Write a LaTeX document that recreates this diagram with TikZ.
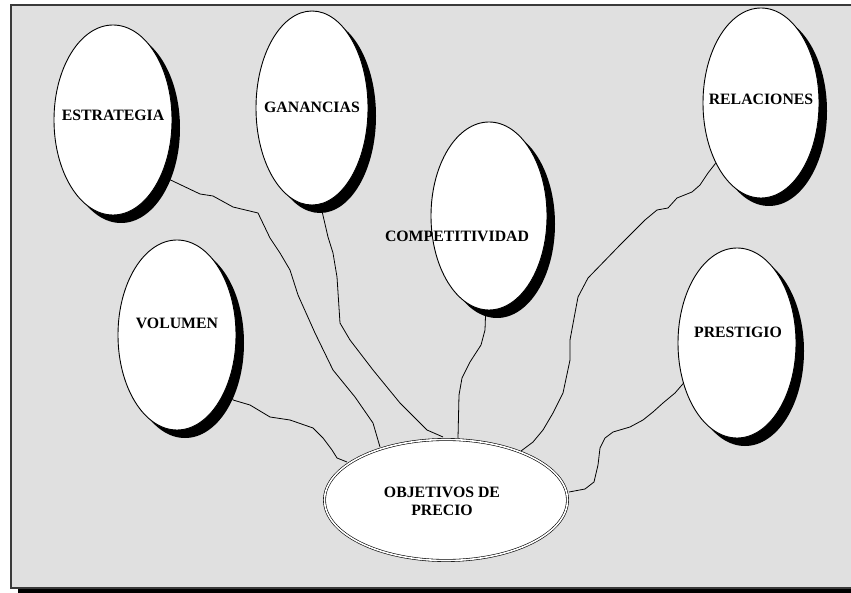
\documentclass[tikz,border=0pt]{standalone}
\usepackage{fontspec}
\setmainfont{Liberation Serif}
\usetikzlibrary{shapes.geometric,shadows}
\definecolor{panel}{HTML}{E0E0E0}
\definecolor{panelrim}{HTML}{3A3A3A}
\begin{document}
\begin{tikzpicture}[x=1pt,y=-1pt,
  goal/.style={ellipse,draw=black,line width=0.9pt,fill=white,inner sep=0pt,
    minimum width=118pt,minimum height=190pt,
    general shadow={fill=black,shadow xshift=8pt,shadow yshift=-8pt}},
  hub/.style={ellipse,draw=black,line width=0.6pt,double=white,double distance=1.6pt,
    fill=white,inner sep=0pt,minimum width=243pt,minimum height=121pt},
  caption/.style={font=\bfseries\fontsize{15.8}{18}\selectfont,text=black,
    inner sep=0pt,align=center},
  wire/.style={draw=black,line width=0.8pt,line join=round}]
\useasboundingbox (0,0) rectangle (851,593);
% panel with its drop shadow
\fill[black] (18,12) rectangle (877,600);
\draw[panelrim,fill=panel,line width=1.2pt] (11,5) rectangle (870,588);

% the six objective bubbles
\node[goal] (estr) at (113,120) {};
\node[goal,minimum width=112pt,minimum height=194pt] (gan) at (312,108) {};
\node[goal,minimum width=116pt,minimum height=188pt] (comp) at (489,216) {};
\node[goal,minimum width=116pt] (rel) at (761,103) {};
\node[goal] (vol) at (177,335) {};
\node[goal] (pres) at (737,343) {};

% freehand links to the central bubble
\draw[wire] (estr.-49) -- (200,194) -- (213,196) -- (233,207) -- (258,213) -- (270,238)
  -- (280,253) -- (290,270) -- (298,295) -- (315,333) -- (333,370) -- (355,397)
  -- (373,423) -- (380,447);
\draw[wire] (gan.-85) -- (328,237) -- (333,253) -- (337,277) -- (340,323) -- (350,340)
  -- (373,370) -- (400,403) -- (427,430) -- (443,437);
\draw[wire] (comp.-92) -- (485,330) -- (481,345) -- (470,362) -- (462,378) -- (459,395)
  -- (458,438);
\draw[wire] (rel.-127) -- (708,173) -- (700,185) -- (692,192) -- (677,198) -- (668,208)
  -- (657,210) -- (645,220) -- (620,245) -- (588,278) -- (578,297) -- (575,313)
  -- (570,340) -- (570,360) -- (563,393) -- (553,413) -- (543,430) -- (533,442)
  -- (521,451);
\draw[wire] (pres.-143.5) -- (675,393) -- (663,403) -- (653,412) -- (643,420) -- (630,427)
  -- (613,432) -- (605,438) -- (600,448) -- (598,465) -- (594,482) -- (585,489)
  -- (569,492);
\draw[wire] (vol.-42) -- (233,400) -- (250,405) -- (270,417) -- (290,420) -- (313,428)
  -- (323,438) -- (332,450) -- (337,458) -- (347,462);

% central bubble
\node[hub] (obj) at (446,500) {};

% labels
\node[caption] (estrT) at (113,115) {ESTRATEGIA};
\node[caption] (ganT) at (312,107) {GANANCIAS};
\node[caption] (compT) at (457,236) {COMPETITIVIDAD};
\node[caption] (relT) at (761,99) {RELACIONES};
\node[caption] (volT) at (177,323) {VOLUMEN};
\node[caption] (presT) at (738,332) {PRESTIGIO};
\node[caption] (objT) at (442,501) {OBJETIVOS DE\\PRECIO};
\end{tikzpicture}
\end{document}
